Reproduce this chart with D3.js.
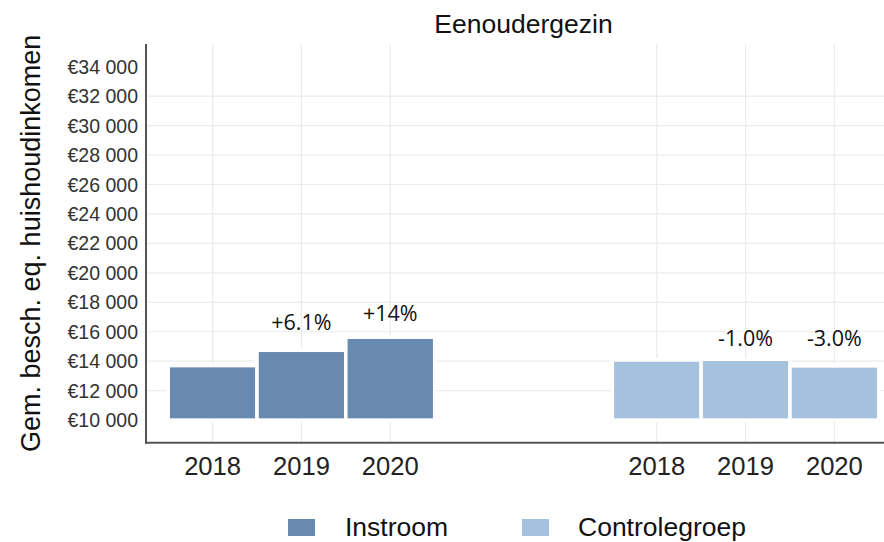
<!DOCTYPE html>
<html>
<head>
<meta charset="utf-8">
<script src="https://cdn.jsdelivr.net/npm/d3@7"></script>
<style>
  body { margin: 0; background: #fff; }
  svg { display: block; }
</style>
</head>
<body>
<svg id="chart" width="884" height="542"></svg>
<script>
// ---- data ----
const title = "Eenoudergezin";
const yTitle = "Gem. besch. eq. huishoudinkomen";
const groups = ["Instroom", "Controlegroep"];
const years = ["2018", "2019", "2020"];
const instroomValues = [13700, 14740, 15630];
const controleValues = [14085, 14130, 13680];
const instroomLabels = ["", "+6.1%", "+14%"];
const controleLabels = ["", "-1.0%", "-3.0%"];
const instroomLabelAt = [null, 16120, 16750];
const controleLabelAt = [null, 15030, 15030];
const yTicks = [10000, 12000, 14000, 16000, 18000, 20000, 22000, 24000, 26000, 28000, 30000, 32000, 34000];
const yGrid = [12000, 14000, 16000, 18000, 20000, 22000, 24000, 26000, 28000, 30000, 32000];
const slotInstroom = [1, 2, 3];
const slotControle = [6, 7, 8];
const colors = ["#6889b0", "#a6c1de"];

(function () {
// ---- layout ----
const svg = d3.select("#chart");
const pL = 146, pR = 901, pT = 44, pB = 442.7;

const x = d3.scaleLinear().domain([0.25, 8.75]).range([pL, pR]);
const y = d3.scaleLinear().domain([8465, 35541]).range([pB, pT]);

const plot = svg.append("g");

// grid
plot.selectAll("line.hg").data(yGrid).enter().append("line")
  .attr("x1", pL).attr("x2", pR)
  .attr("y1", d => y(d)).attr("y2", d => y(d))
  .attr("stroke", "#ebebeb").attr("stroke-width", 1.2);
plot.selectAll("line.vg").data(slotInstroom.concat(slotControle)).enter().append("line")
  .attr("x1", d => x(d)).attr("x2", d => x(d))
  .attr("y1", pT).attr("y2", pB)
  .attr("stroke", "#ebebeb").attr("stroke-width", 1.2);

// bars
const rows = [];
years.forEach((yr, i) => {
  rows.push({g: 0, slot: slotInstroom[i], v: instroomValues[i], lab: instroomLabels[i], la: instroomLabelAt[i]});
  rows.push({g: 1, slot: slotControle[i], v: controleValues[i], lab: controleLabels[i], la: controleLabelAt[i]});
});
const bw = x(1) - x(0);
plot.selectAll("rect.bar").data(rows).enter().append("rect")
  .attr("x", d => x(d.slot) - bw / 2)
  .attr("width", bw)
  .attr("y", d => y(d.v))
  .attr("height", d => y(10000) - y(d.v))
  .attr("fill", d => colors[d.g])
  .attr("stroke", "#ffffff").attr("stroke-width", 3.5);

// bar labels
plot.selectAll("text.lab").data(rows.filter(d => d.lab)).enter().append("text")
  .attr("x", d => x(d.slot))
  .attr("y", d => y(d.la))
  .attr("text-anchor", "middle")
  .attr("font-family", "'Open Sans', sans-serif")
  .attr("font-size", 21.5)
  .attr("fill", "#111")
  .text(d => d.lab);

// axes lines
svg.append("line").attr("x1", pL).attr("x2", pL).attr("y1", pT).attr("y2", pB + 1)
  .attr("stroke", "#555").attr("stroke-width", 2);
svg.append("line").attr("x1", pL - 1).attr("x2", 884).attr("y1", pB).attr("y2", pB)
  .attr("stroke", "#555").attr("stroke-width", 2);

// y tick labels
svg.selectAll("text.yt").data(yTicks).enter().append("text")
  .attr("x", 138).attr("y", d => y(d))
  .attr("dy", "0.36em")
  .attr("text-anchor", "end")
  .attr("font-family", "'Liberation Sans', Arial, sans-serif")
  .attr("font-size", 19.5)
  .attr("fill", "#333")
  .text(d => "€" + d3.format(",")(d).replace(",", " "));

// x tick labels
const xt = [];
years.forEach((yr, i) => { xt.push({s: slotInstroom[i], t: yr}); xt.push({s: slotControle[i], t: yr}); });
svg.selectAll("text.xt").data(xt).enter().append("text")
  .attr("x", d => x(d.s)).attr("y", 475)
  .attr("text-anchor", "middle")
  .attr("font-family", "'Liberation Sans', Arial, sans-serif")
  .attr("font-size", 25.6)
  .attr("fill", "#222")
  .text(d => d.t);

// title
svg.append("text").attr("x", (pL + pR) / 2).attr("y", 33)
  .attr("text-anchor", "middle")
  .attr("font-family", "'Liberation Sans', Arial, sans-serif")
  .attr("font-size", 26.5).attr("fill", "#111")
  .text(title);

// y title
svg.append("text")
  .attr("transform", `translate(40,${(pT + pB) / 2}) rotate(-90)`)
  .attr("text-anchor", "middle")
  .attr("font-family", "'Liberation Sans', Arial, sans-serif")
  .attr("font-size", 27).attr("fill", "#111")
  .text(yTitle);

// legend
const legX = [288, 522];
const legTX = [345, 578];
groups.forEach((g, i) => {
  svg.append("rect").attr("x", legX[i]).attr("y", 519).attr("width", 27).attr("height", 17)
    .attr("fill", colors[i]);
  svg.append("text").attr("x", legTX[i]).attr("y", 536)
    .attr("font-family", "'Liberation Sans', Arial, sans-serif")
    .attr("font-size", 26.5).attr("fill", "#111")
    .text(g);
});
})();
</script>
</body>
</html>
